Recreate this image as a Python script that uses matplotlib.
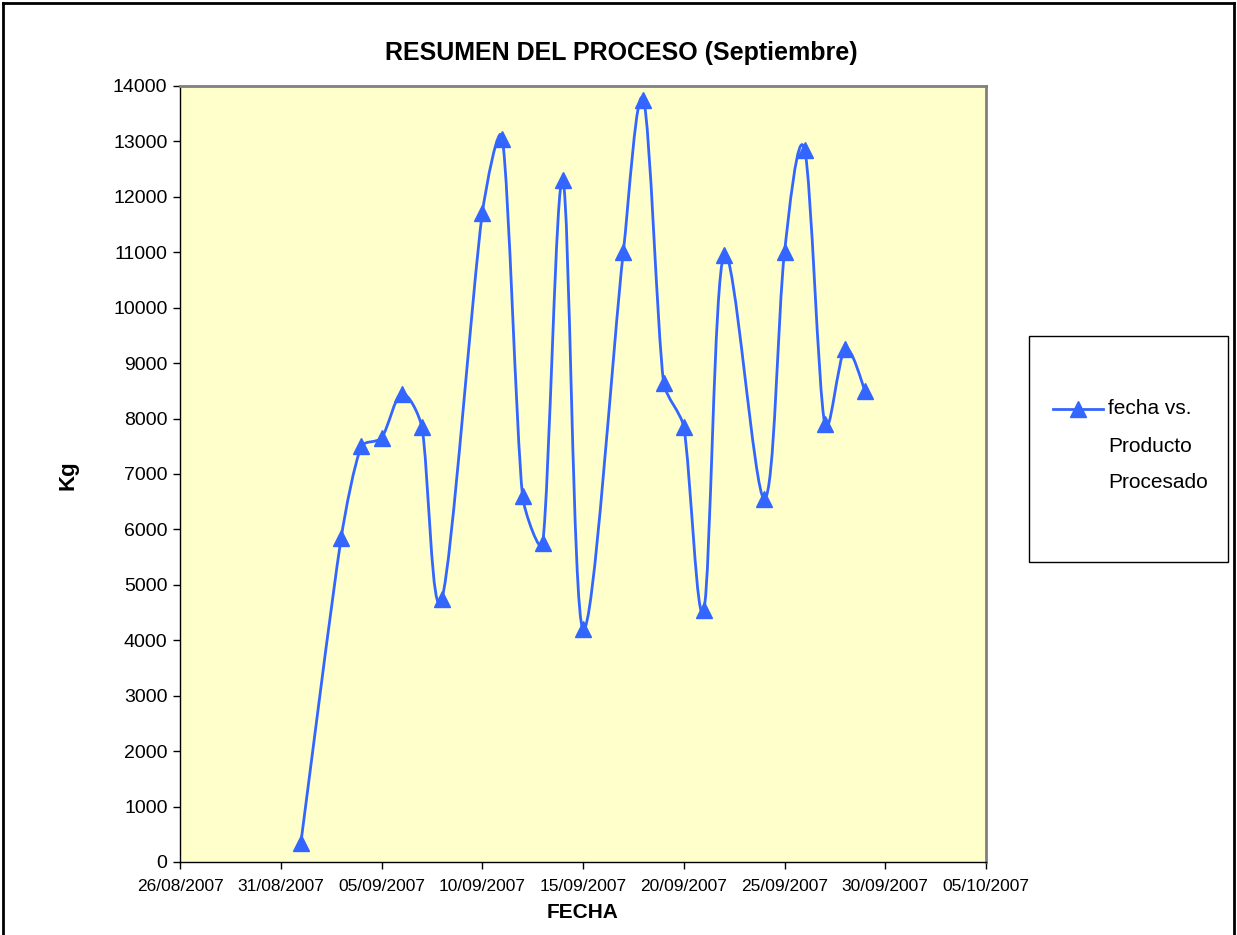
import datetime as dt
import numpy as np
import matplotlib
matplotlib.use("Agg")
import matplotlib.pyplot as plt
import matplotlib.dates as mdates
from matplotlib.path import Path
from matplotlib.patches import PathPatch, Rectangle
from matplotlib.lines import Line2D

plt.rcParams['font.family'] = ['Liberation Sans', 'DejaVu Sans']

# datos (kg por dia, septiembre 2007)
fechas = ["01/09/2007", "03/09/2007", "04/09/2007", "05/09/2007", "06/09/2007",
          "07/09/2007", "08/09/2007", "10/09/2007", "11/09/2007", "12/09/2007",
          "13/09/2007", "14/09/2007", "15/09/2007", "17/09/2007", "18/09/2007",
          "19/09/2007", "20/09/2007", "21/09/2007", "22/09/2007", "24/09/2007",
          "25/09/2007", "26/09/2007", "27/09/2007", "28/09/2007", "29/09/2007"]
kg = [350, 5850, 7500, 7650, 8450, 7850, 4750, 11700, 13050, 6600,
      5750, 12300, 4200, 11000, 13750, 8650, 7850, 4550, 10950, 6550,
      11000, 12850, 7900, 9250, 8500]

x_inicio = "26/08/2007"
x_fin = "05/10/2007"
y_ticks = list(range(0, 14001, 1000))

titulo = "RESUMEN DEL PROCESO (Septiembre)"
etiqueta_x = "FECHA"
etiqueta_y = "Kg"
leyenda = ["fecha vs.", "Producto", "Procesado"]

color_linea = "#3366FF"


def a_num(s):
    return mdates.date2num(dt.datetime.strptime(s, "%d/%m/%Y"))


xs = [a_num(f) for f in fechas]


def curva_suave(ax, x, y, k=0.3):
    # bezier estilo excel, calculado en pixeles y limitado en tramos cortos
    p = ax.transData.transform(np.column_stack([x, y]))
    n = len(p)
    verts = [p[0]]
    codes = [Path.MOVETO]
    for i in range(n - 1):
        p0 = p[i - 1] if i > 0 else p[i]
        p1, p2 = p[i], p[i + 1]
        p3 = p[i + 2] if i + 2 < n else p2
        seg = np.hypot(*(p2 - p1))
        t1 = (p2 - p0) / 6.0
        t2 = (p3 - p1) / 6.0
        l1, l2 = np.hypot(*t1), np.hypot(*t2)
        if l1 > k * seg:
            t1 = t1 * k * seg / l1
        if l2 > k * seg:
            t2 = t2 * k * seg / l2
        verts += [p1 + t1, p2 - t2, p2]
        codes += [Path.CURVE4] * 3
    datos = ax.transData.inverted().transform(np.array(verts))
    return Path(datos, codes)


fig = plt.figure(figsize=(12.37, 9.35), dpi=100)
W, H = 1237.0, 935.0
ax = fig.add_axes([180 / W, 1 - 862 / H, (986 - 180) / W, (862 - 86) / H])
ax.set_facecolor("#FFFFCC")

ax.set_xlim(a_num(x_inicio), a_num(x_fin))
ax.set_ylim(0, 14000)
ax.set_yticks(y_ticks)
ax.set_xticks([a_num(x_inicio) + 5 * k for k in range(9)])
ax.xaxis.set_major_formatter(mdates.DateFormatter("%d/%m/%Y"))

ax.add_patch(PathPatch(curva_suave(ax, xs, kg), fill=False, edgecolor=color_linea,
                       linewidth=2.0, zorder=3))
ax.plot(xs, kg, linestyle="none", marker="^", markersize=11,
        color=color_linea, zorder=4)

for lado in ["top", "right"]:
    ax.spines[lado].set_color("#808080")
    ax.spines[lado].set_linewidth(2.0)
for lado in ["left", "bottom"]:
    ax.spines[lado].set_color("black")
    ax.spines[lado].set_linewidth(1.0)

ax.tick_params(axis="y", direction="out", length=5, width=1, labelsize=14, pad=4)
ax.tick_params(axis="x", direction="out", length=5, width=1, labelsize=12.5, pad=7)

fig.text(621 / W, 1 - 53 / H, titulo, ha="center", va="center",
         fontsize=18, fontweight="bold")
fig.text(68 / W, 1 - 475 / H, etiqueta_y, ha="center", va="center",
         fontsize=16, fontweight="bold", rotation=90)
fig.text(583 / W, 1 - 913 / H, etiqueta_x, ha="center", va="center",
         fontsize=15, fontweight="bold")

# leyenda dibujada a mano
fig.add_artist(Rectangle((1029 / W, 1 - 562 / H), (1228 - 1029) / W, (562 - 336) / H,
                         facecolor="white", edgecolor="black", linewidth=1.0))
fig.add_artist(Line2D([1053 / W, 1103 / W], [1 - 409 / H, 1 - 409 / H],
                      color=color_linea, linewidth=2.0))
fig.add_artist(Line2D([1078 / W], [1 - 409 / H], color=color_linea,
                      marker="^", markersize=11, linestyle="none"))
for j, txt in enumerate(leyenda):
    fig.text(1108 / W, 1 - (409 + 37 * j) / H, txt, ha="left", va="center",
             fontsize=15)

# marco exterior
for (xa, ya, xb, yb) in [(3, 935, 3, 3), (3, 3, 1234, 3), (1234, 3, 1234, 935)]:
    fig.add_artist(Line2D([xa / W, xb / W], [1 - ya / H, 1 - yb / H],
                          color="black", linewidth=2.0))

fig.savefig("out.png", dpi=100, facecolor="white")
